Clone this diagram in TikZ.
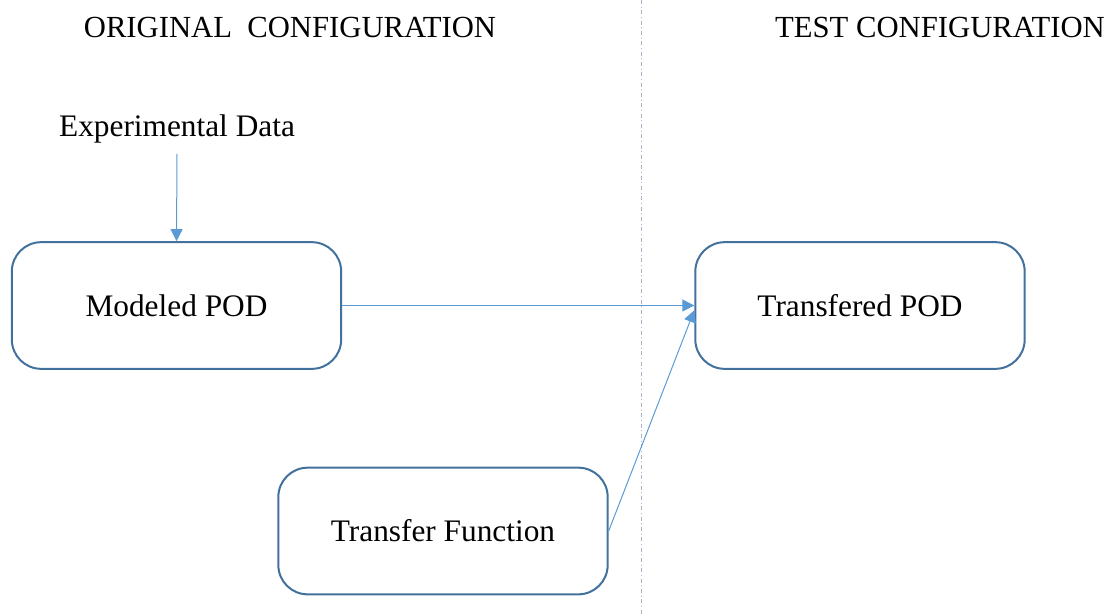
\documentclass[tikz,border=0pt]{standalone}
\usepackage{fontspec}
\setmainfont{Liberation Serif}
\usetikzlibrary{positioning,arrows.meta}
\definecolor{boxblue}{HTML}{41719C}
\definecolor{arrowblue}{HTML}{5B9BD5}
\definecolor{splitgray}{HTML}{A9B6CA}

\begin{document}
\begin{tikzpicture}[x=0.75pt,y=-0.75pt,
  podbox/.style={draw=boxblue,line width=1.5pt,rounded corners=22pt,
    minimum width=247pt,minimum height=95pt,inner sep=0pt,
    font=\fontsize{23.5pt}{28pt}\selectfont},
  flow/.style={arrowblue,line width=0.75pt,-{Triangle[length=9pt,width=9pt]}},
  heading/.style={font=\fontsize{23pt}{27pt}\selectfont}]
\useasboundingbox (0,0) rectangle (1116,615);
\draw[splitgray,line width=0.75pt,dash pattern=on 3pt off 2pt on 0.75pt off 2pt] (641,0)--(641,615);
\node[heading] (origtitle) at (290,27) {ORIGINAL\ \ CONFIGURATION};
\node[heading] (testtitle) at (940,27) {TEST CONFIGURATION};
\node[font=\fontsize{23.5pt}{28pt}\selectfont] (expdata) at (177,129) {Experimental Data};
\node[podbox] (modeled) at (176.5,305.5) {Modeled POD};
\node[podbox] (transfered) at (860,305.5) {Transfered POD};
\node[podbox] (tfunc) at (443,531) {Transfer Function};
\coordinate (tfend) at ([yshift=-3.5pt]transfered.west);
\draw[flow] (expdata.south) ++(0,6) -- (modeled.north);
\draw[flow] (modeled.east) -- (transfered.west);
\draw[flow] (tfunc.east) -- (tfend);
\end{tikzpicture}
\end{document}
